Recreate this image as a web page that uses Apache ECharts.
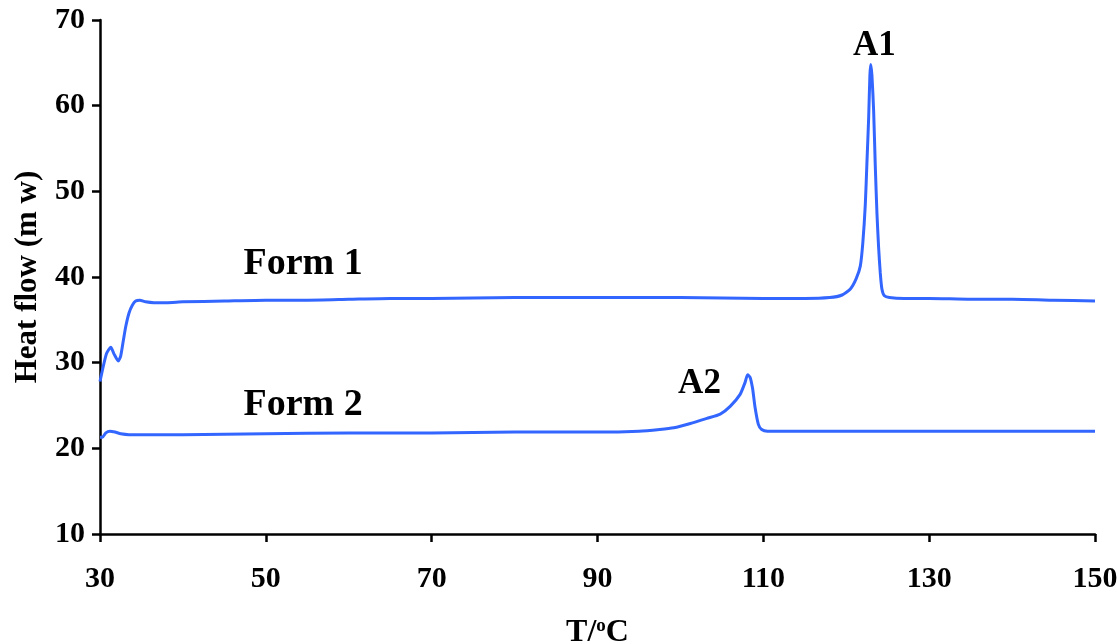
<!DOCTYPE html>
<html>
<head>
<meta charset="utf-8">
<script src="https://cdn.jsdelivr.net/npm/echarts@6/dist/echarts.min.js"></script>
<style>
  html, body { margin: 0; padding: 0; background: #fff; }
  #chart { width: 1117px; height: 644px; }
</style>
</head>
<body>
<div id="chart"></div>
<script>
// DSC traces: temperature (°C) and heat flow (mW) for the two forms
const form1Temp = [30.0, 30.4, 30.8, 31.3, 31.7, 32.2, 32.5, 32.8, 33.1, 33.5, 33.9, 34.3, 34.8, 35.5, 36.5, 38.0, 40.0, 45.0, 50.0, 55.0, 60.0, 65.0, 70.0, 80.0, 90.0, 100.0, 110.0, 115.0, 118.0, 119.5, 120.5, 121.2, 121.7, 122.0, 122.3, 122.5, 122.7, 122.85, 122.95, 123.1, 123.3, 123.5, 123.7, 123.9, 124.1, 124.3, 124.6, 125.2, 127.0, 130.0, 135.0, 140.0, 145.0, 150.0];
const form1Heat = [27.8, 29.6, 31.1, 31.8, 31.0, 30.2, 30.8, 32.5, 34.2, 35.8, 36.7, 37.2, 37.3, 37.1, 37.0, 37.0, 37.1, 37.2, 37.3, 37.3, 37.4, 37.5, 37.5, 37.6, 37.6, 37.6, 37.5, 37.5, 37.6, 37.9, 38.6, 39.8, 41.3, 44.0, 48.5, 53.5, 58.5, 63.5, 64.8, 63.5, 59.5, 53.0, 47.5, 43.5, 40.5, 38.6, 37.8, 37.6, 37.5, 37.5, 37.4, 37.4, 37.3, 37.2];

const form2Temp = [30.0, 30.3, 30.7, 31.2, 31.8, 32.5, 33.5, 35.0, 40.0, 50.0, 60.0, 70.0, 80.0, 90.0, 95.0, 97.5, 99.2, 101.2, 103.2, 104.8, 106.0, 107.2, 107.8, 108.1, 108.4, 108.7, 109.0, 109.4, 109.8, 110.5, 115.0, 120.0, 130.0, 140.0, 150.0];
const form2Heat = [21.3, 21.3, 21.8, 22.0, 21.9, 21.7, 21.6, 21.6, 21.6, 21.7, 21.8, 21.8, 21.9, 21.9, 22.0, 22.2, 22.4, 22.9, 23.5, 24.0, 24.9, 26.3, 27.7, 28.6, 28.3, 27.0, 24.8, 22.8, 22.2, 22.0, 22.0, 22.0, 22.0, 22.0, 22.0];

const xTicks = { min: 30, max: 150, step: 20 };
const yTicks = { min: 10, max: 70, step: 10 };

const FONT = '"Liberation Serif", "Times New Roman", serif';
const LINE_COLOR = '#3366ff';

const zip = (xs, ys) => xs.map((x, i) => [x, ys[i]]);

// Text annotations placed in data coordinates
const notes = [
  { text: 'Form 1', coord: [54.5, 41.5], size: 38 },
  { text: 'Form 2', coord: [54.5, 25.0], size: 38 },
  { text: 'A1', coord: [123.4, 67.0], size: 35 },
  { text: 'A2', coord: [102.3, 27.5], size: 35 }
];

const chart = echarts.init(document.getElementById('chart'), null, { renderer: 'canvas' });

const axisLineStyle = { color: '#000', width: 2.5 };

chart.setOption({
  animation: false,
  backgroundColor: '#fff',
  grid: { left: 100, right: 22, top: 20, bottom: 110, containLabel: false, outerBoundsMode: 'none' },
  xAxis: {
    type: 'value',
    min: xTicks.min, max: xTicks.max, interval: xTicks.step,
    name: 'T/{sup|o}C',
    nameLocation: 'middle',
    nameGap: 83,
    nameMoveOverlap: false,
    nameTextStyle: {
      fontFamily: FONT, fontWeight: 'bold', fontSize: 32, color: '#000',
      rich: {
        sup: { fontFamily: FONT, fontWeight: 'bold', fontSize: 19, color: '#000', verticalAlign: 'top', lineHeight: 30 }
      }
    },
    axisLine: { show: true, onZero: false, lineStyle: axisLineStyle },
    axisTick: { show: true, inside: false, length: 8, lineStyle: axisLineStyle },
    axisLabel: { margin: 30, fontFamily: FONT, fontWeight: 'bold', fontSize: 30, color: '#000' },
    splitLine: { show: false }
  },
  yAxis: {
    type: 'value',
    min: yTicks.min, max: yTicks.max, interval: yTicks.step,
    name: 'Heat flow (m w)',
    nameLocation: 'middle',
    nameRotate: 90,
    nameGap: 57,
    nameMoveOverlap: false,
    nameTextStyle: { fontFamily: FONT, fontWeight: 'bold', fontSize: 31, color: '#000' },
    axisLine: { show: true, onZero: false, lineStyle: axisLineStyle },
    axisTick: { show: true, inside: false, length: 8, lineStyle: axisLineStyle },
    axisLabel: { margin: 15, fontFamily: FONT, fontWeight: 'bold', fontSize: 30, color: '#000' },
    splitLine: { show: false }
  },
  series: [
    {
      name: 'Form 1',
      type: 'line',
      data: zip(form1Temp, form1Heat),
      showSymbol: false,
      smooth: 0.2,
      lineStyle: { color: LINE_COLOR, width: 3 },
      itemStyle: { color: LINE_COLOR },
      z: 3
    },
    {
      name: 'Form 2',
      type: 'line',
      data: zip(form2Temp, form2Heat),
      showSymbol: false,
      smooth: 0.2,
      lineStyle: { color: LINE_COLOR, width: 3 },
      itemStyle: { color: LINE_COLOR },
      z: 3
    },
    {
      name: 'notes',
      type: 'scatter',
      symbolSize: 0,
      silent: true,
      itemStyle: { opacity: 1 },
      data: notes.map(n => ({
        value: n.coord,
        label: {
          show: true,
          position: 'inside',
          formatter: n.text,
          fontFamily: FONT,
          fontWeight: 'bold',
          fontSize: n.size,
          color: '#000',
          opacity: 1
        }
      })),
      z: 4
    }
  ]
});
</script>
</body>
</html>
